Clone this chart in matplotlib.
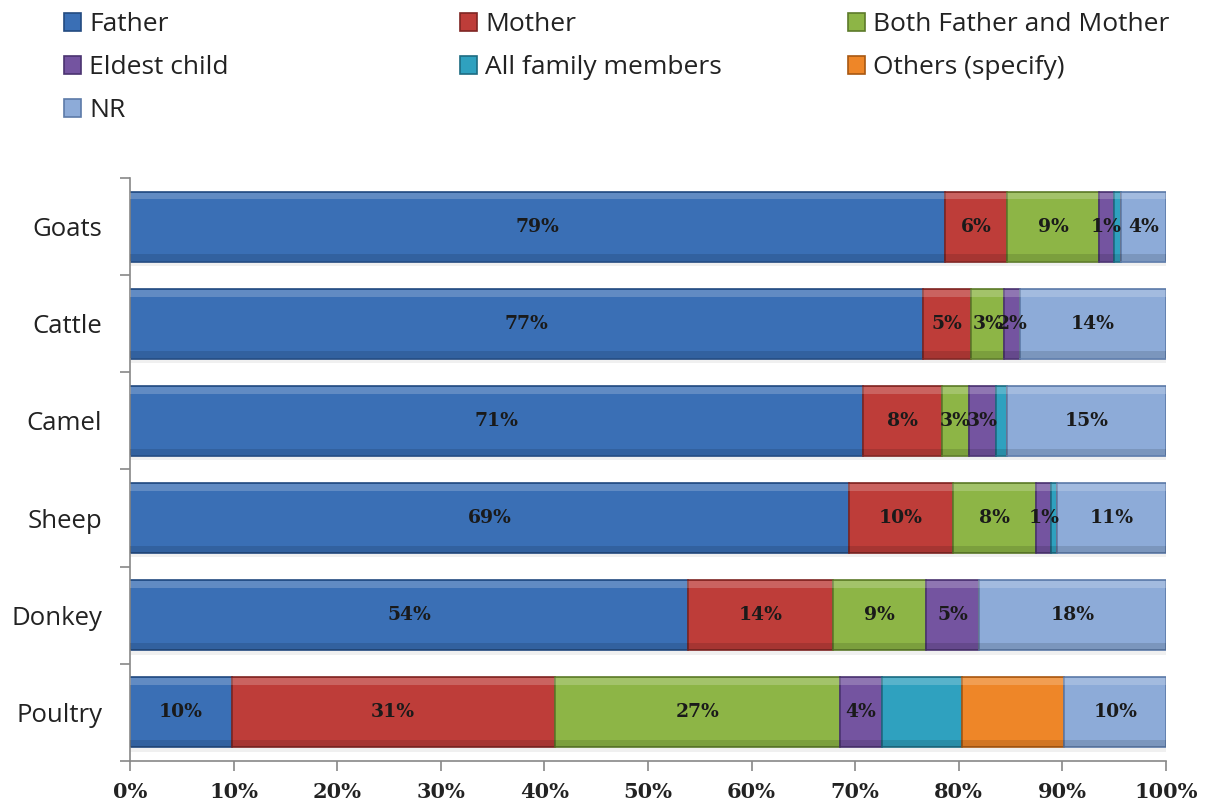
import matplotlib
matplotlib.use("Agg")
import matplotlib.pyplot as plt
import numpy as np

# share of each decision maker per livestock type (percent)
CATEGORIES = ["Goats", "Cattle", "Camel", "Sheep", "Donkey", "Poultry"]
SERIES = ["Father", "Mother", "Both Father and Mother", "Eldest child",
          "All family members", "Others (specify)", "NR"]
FATHER = [78.7, 76.5, 70.8, 69.4, 53.9, 9.8]
MOTHER = [6.0, 4.7, 7.6, 10.0, 14.0, 31.2]
BOTH = [8.8, 3.2, 2.6, 8.1, 8.9, 27.5]
ELDEST = [1.5, 1.5, 2.6, 1.4, 5.2, 4.1]
ALL_FAMILY = [0.7, 0.0, 1.1, 0.6, 0.0, 7.7]
OTHERS = [0.0, 0.0, 0.0, 0.0, 0.0, 9.9]
NR = [4.3, 14.1, 15.3, 10.5, 18.0, 9.8]

# labels printed inside the bars (None = not shown)
LABELS = {
    "Father": ["79%", "77%", "71%", "69%", "54%", "10%"],
    "Mother": ["6%", "5%", "8%", "10%", "14%", "31%"],
    "Both Father and Mother": ["9%", "3%", "3%", "8%", "9%", "27%"],
    "Eldest child": ["1%", "2%", "3%", "1%", "5%", "4%"],
    "All family members": None,
    "Others (specify)": None,
    "NR": ["4%", "14%", "15%", "11%", "18%", "10%"],
}
COLORS = ["#3A6FB5", "#BE3D39", "#8DB546", "#7454A0", "#2FA1BF", "#EE8628", "#8DABD8"]
EDGES = ["#234A80", "#7E2523", "#5C7A2A", "#4A3370", "#1D6C82", "#A85812", "#5C7AA8"]
TICKS = [0, 10, 20, 30, 40, 50, 60, 70, 80, 90, 100]

VALUES = [FATHER, MOTHER, BOTH, ELDEST, ALL_FAMILY, OTHERS, NR]

fig = plt.figure(figsize=(12.06, 7.99), dpi=100)
ax = fig.add_axes([0.1078, 0.0476, 0.859, 0.7296])

y_pos = np.arange(len(CATEGORIES))[::-1]
left = np.zeros(len(CATEGORIES))
handles = []
for name, vals, col, edge in zip(SERIES, VALUES, COLORS, EDGES):
    vals = np.array(vals)
    # soft shadow under the bar
    ax.barh(y_pos - 0.045, vals, left=left, height=0.72, color="#000000", alpha=0.06,
            linewidth=0, zorder=1)
    bars = ax.barh(y_pos, vals, left=left, height=0.72, color=col, edgecolor=edge,
                   linewidth=1.2, label=name, zorder=2)
    # bevel: light strip on top, darker strip at the bottom
    ax.barh(y_pos + 0.315, vals, left=left, height=0.07, color="white", alpha=0.2,
            linewidth=0, zorder=3)
    ax.barh(y_pos - 0.32, vals, left=left, height=0.07, color="black", alpha=0.12,
            linewidth=0, zorder=3)
    handles.append(bars)
    if LABELS[name] is not None:
        ax.bar_label(bars, labels=LABELS[name], label_type="center", zorder=4,
                     fontsize=13.5, fontweight="bold", family="DejaVu Serif",
                     color="#1a1a1a")
    left = left + vals

ax.set_xlim(0, 100)
ax.set_ylim(-0.5, len(CATEGORIES) - 0.5)
ax.set_xticks(TICKS)
ax.set_xticklabels([f"{t}%" for t in TICKS], fontsize=15, fontweight="bold",
                   family="DejaVu Serif", color="#222222")
ax.set_yticks(y_pos)
ax.set_yticklabels(CATEGORIES, fontsize=18.5, family="Open Sans", color="#222222")
ax.tick_params(axis="y", length=0, pad=20)
ax.set_yticks(np.arange(-0.5, len(CATEGORIES), 1.0), minor=True)
ax.tick_params(axis="y", which="minor", length=7, color="#888888", width=1.2)
ax.tick_params(axis="x", length=7, color="#888888", width=1.2, pad=8)
for side in ["top", "right"]:
    ax.spines[side].set_visible(False)
for side in ["left", "bottom"]:
    ax.spines[side].set_color("#888888")
    ax.spines[side].set_linewidth(1.2)

# legend laid out row-wise: one legend per column
column_sets = [[0, 3, 6], [1, 4], [2, 5]]
column_x = [0.038, 0.366, 0.688]
for idx_list, x in zip(column_sets, column_x):
    leg = fig.legend([handles[i] for i in idx_list], [SERIES[i] for i in idx_list],
                     loc="upper left", bbox_to_anchor=(x, 1.008), frameon=False,
                     prop={"family": "Open Sans", "size": 19}, handlelength=0.65,
                     handleheight=0.65, handletextpad=0.3, labelspacing=0.68,
                     borderaxespad=0.3)
    for t in leg.get_texts():
        t.set_color("#222222")

fig.savefig("out.png", dpi=100)
